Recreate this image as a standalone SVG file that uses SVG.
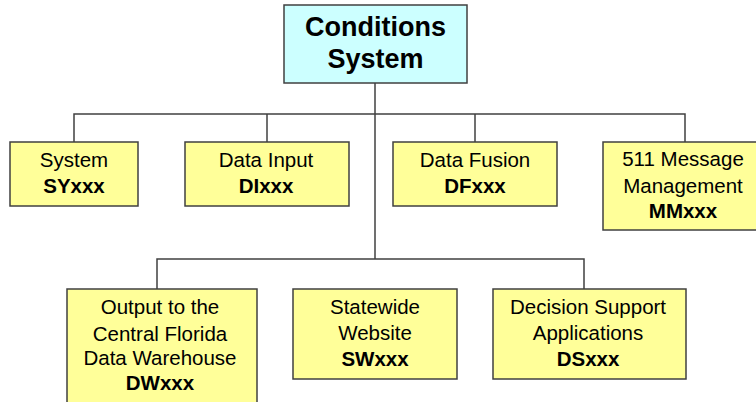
<svg xmlns="http://www.w3.org/2000/svg" width="756" height="402" viewBox="0 0 756 402">
  <style>
    .box { fill: #FFFF99; stroke: #404040; stroke-width: 1.5; }
    .root { fill: #CCFFFF; stroke: #404040; stroke-width: 1.5; }
    .link { fill: none; stroke: #404040; stroke-width: 1.5; }
    text { font-family: "Liberation Sans", Arial, sans-serif; text-anchor: middle; fill: #000; }
    .t { font-size: 20.5px; }
    .b { font-size: 20.5px; font-weight: bold; }
    .h { font-size: 27px; font-weight: bold; }
  </style>
  <rect width="756" height="402" fill="#FFFFFF"/>

  <g id="connectors">
    <path class="link" d="M375,83 V259"/>
    <path class="link" d="M74,142 V114 H685 V142"/>
    <path class="link" d="M267,114 V142"/>
    <path class="link" d="M475,114 V142"/>
    <path class="link" d="M157,289 V259 H584 V289"/>
  </g>

  <g id="conditions-system">
    <rect class="root" x="284" y="5" width="183" height="78"/>
    <text class="h" x="375.5" y="36">Conditions</text>
    <text class="h" x="375.5" y="68">System</text>
  </g>

  <g id="system">
    <rect class="box" x="10" y="142" width="128" height="64"/>
    <text class="t" x="74" y="167">System</text>
    <text class="b" x="74" y="193">SYxxx</text>
  </g>

  <g id="data-input">
    <rect class="box" x="185" y="142" width="164" height="64"/>
    <text class="t" x="266" y="167">Data Input</text>
    <text class="b" x="266" y="193">DIxxx</text>
  </g>

  <g id="data-fusion">
    <rect class="box" x="393" y="142" width="164" height="64"/>
    <text class="t" x="475" y="167">Data Fusion</text>
    <text class="b" x="475" y="193">DFxxx</text>
  </g>

  <g id="message-management">
    <rect class="box" x="603" y="142" width="162" height="88"/>
    <text class="t" x="683" y="166">511 Message</text>
    <text class="t" x="683" y="193">Management</text>
    <text class="b" x="683" y="218">MMxxx</text>
  </g>

  <g id="data-warehouse">
    <rect class="box" x="67" y="289" width="190" height="120"/>
    <text class="t" x="160" y="314">Output to the</text>
    <text class="t" x="160" y="341">Central Florida</text>
    <text class="t" x="160" y="365">Data Warehouse</text>
    <text class="b" x="160" y="390">DWxxx</text>
  </g>

  <g id="statewide-website">
    <rect class="box" x="293" y="289" width="164" height="90"/>
    <text class="t" x="375" y="314">Statewide</text>
    <text class="t" x="375" y="340">Website</text>
    <text class="b" x="375" y="366">SWxxx</text>
  </g>

  <g id="decision-support">
    <rect class="box" x="493" y="289" width="193" height="90"/>
    <text class="t" x="588" y="314">Decision Support</text>
    <text class="t" x="588" y="340">Applications</text>
    <text class="b" x="588" y="366">DSxxx</text>
  </g>
</svg>
